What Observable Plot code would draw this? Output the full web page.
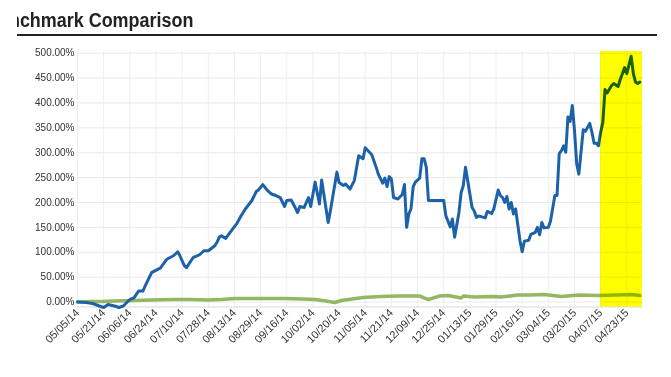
<!DOCTYPE html>
<html><head><meta charset="utf-8">
<script src="https://cdn.jsdelivr.net/npm/d3@7"></script>
<script src="https://cdn.jsdelivr.net/npm/@observablehq/plot@0.6"></script>
<style>
html,body{margin:0;padding:0;background:#fff;}
#wrap{position:relative;width:671px;height:377px;overflow:hidden;font-family:"Liberation Sans",Arial,sans-serif;}
#chart{position:absolute;left:0;top:0;}
#title{position:absolute;left:17px;top:0;width:654px;height:33px;overflow:hidden;z-index:2;}
#title span{position:absolute;left:-31px;top:10.5px;font-weight:bold;font-size:19.5px;line-height:19.5px;transform:scaleX(0.92);transform-origin:0 0;white-space:nowrap;color:#222;}
#rule{position:absolute;left:17px;top:33.5px;width:640px;height:2px;background:#222;z-index:2;}
</style>
</head><body>
<div id="wrap">
  <div id="chart"></div>
  <div id="title"><span>Benchmark Comparison</span></div>
  <div id="rule"></div>
</div>
<script>
// x positions are trading-day indices since 05/05/14
const xTickIdx = [0,12,24,36,48,60,72,84,96,108,120,132,144,156,168,180,192,204,216,228,240,252];
const xLabels = ["05/05/14","05/21/14","06/06/14","06/24/14","07/10/14","07/28/14","08/13/14","08/29/14","09/16/14","10/02/14","10/20/14","11/05/14","11/21/14","12/09/14","12/25/14","01/13/15","01/29/15","02/16/15","03/04/15","03/20/15","04/07/15","04/23/15"];
const yTicks = [0,50,100,150,200,250,300,350,400,450,500];

const fundIdx = [0,4,7,10,12,14,17,19,21,24,26,28,30,31,34,37,38,41,44,46,47,49,50,53,56,58,60,63,64,65,66,68,70,73,75,77,80,82,83,85,87,89,91,93,95,96,98,99,101,102,104,106,107,109,111,112,115,116,119,120,122,123,125,127,129,131,132,135,137,138,140,141,142,143,144,145,147,149,150,151,152,153,154,155,157,158,159,160,161,168,169,171,172,173,175,176,177,178,179,181,182,183,184,187,188,190,191,193,194,195,196,197,198,199,200,201,203,204,205,207,208,210,211,212,213,214,216,217,219,220,221,222,223,224,225,226,227,228,229,230,232,233,235,236,237,238,239,240,241,242,243,245,246,248,249,251,252,254,255,256,257,258];
const fundVals = [0,-1,-3,-8,-11,-5,-8,-11,-8,5,9,22,22,32,59,66,68,86,93,101,93,73,69,89,95,103,103,113,120,130,133,128,140,157,173,187,204,222,225,236,225,217,214,210,192,204,205,197,180,192,190,210,192,241,197,245,160,183,261,240,234,237,227,244,294,288,310,296,271,257,239,249,232,252,247,210,207,216,236,150,177,187,232,241,249,288,288,271,204,204,173,151,167,130,180,220,234,271,244,190,183,170,173,169,182,178,187,225,214,210,200,212,187,200,177,187,123,101,122,124,136,140,150,135,160,149,150,163,214,214,298,304,314,301,372,363,395,345,278,257,346,343,359,341,319,319,314,341,361,427,420,435,439,433,447,471,459,494,459,442,439,442];

const benchIdx = [0,6,11,17,26,34,44,52,60,66,72,84,95,103,109,114,118,121,126,131,139,147,157,161,166,170,176,177,182,191,194,202,208,214,222,230,239,247,254,258];
const benchVals = [0,1,1,2,3,4,5,5,4,5,7,7,7,6,5,2,-1,3,6,9,11,12,12,5,12,13,8,12,10,11,10,14,14,15,11,14,13,14,15,13];

const highlightRange = [240, 259.2];

const fund = fundIdx.map((i, k) => ({i, v: fundVals[k]}));
const bench = benchIdx.map((i, k) => ({i, v: benchVals[k]}));

const yMin = -10, yMax = 503.4;

const chart = Plot.plot({
  width: 671,
  height: 377,
  marginLeft: 77,
  marginRight: 29,
  marginTop: 51,
  marginBottom: 70.5,
  style: {fontFamily: "'Liberation Sans', Arial, sans-serif", background: "transparent", overflow: "visible"},
  x: {domain: [0, 259.2], axis: null},
  y: {domain: [yMin, yMax], axis: null},
  marks: [
    Plot.gridY(yTicks, {stroke: "#e9e9e9", strokeOpacity: 1}),
    Plot.gridX(xTickIdx, {stroke: "#eeeeee", strokeOpacity: 1, y1: yMin, y2: yMax}),
    Plot.ruleY([yMin], {stroke: "#d9d9d9"}),
    Plot.line(bench, {x: "i", y: "v", stroke: "#8db35a", strokeWidth: 3.5, strokeOpacity: 0.95}),
    Plot.line(fund, {x: "i", y: "v", stroke: "#1d62a9", strokeWidth: 3}),
    Plot.rect([0], {x1: highlightRange[0], x2: highlightRange[1], y1: yMin, y2: yMax, fill: "#ffff00", mixBlendMode: "multiply"}),
    Plot.axisY(yTicks, {label: null, tickSize: 0, tickPadding: 3, tickFormat: d => d.toFixed(2) + "%", fontSize: 10, fill: "#333"}),
    Plot.axisX(xTickIdx, {label: null, tickSize: 0, tickPadding: 4, tickRotate: -45, tickFormat: d => xLabels[xTickIdx.indexOf(d)], fontSize: 11, fill: "#333"})
  ]
});
document.getElementById("chart").appendChild(chart);
</script>
</body></html>
